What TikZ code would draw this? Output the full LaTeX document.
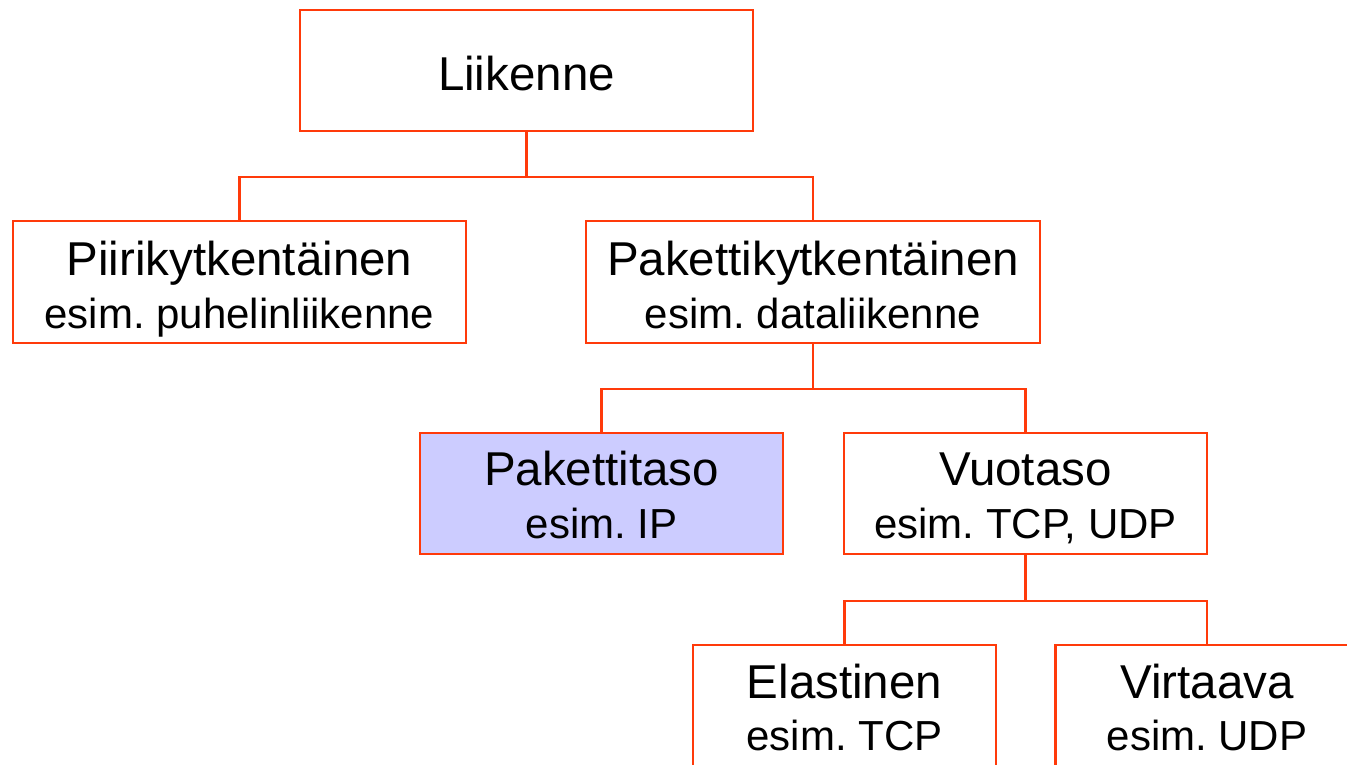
\documentclass[tikz,border=0pt]{standalone}
\usepackage{fontspec}
\setmainfont{Liberation Sans}
\usetikzlibrary{calc}
\frenchspacing
\definecolor{edge}{RGB}{255,58,10}
\definecolor{lav}{RGB}{204,204,255}
\tikzset{
  box/.style={draw=edge, line width=2.2pt, fill=white, rectangle, inner sep=0pt},
  hilite/.style={box, fill=lav},
  big/.style={anchor=base, inner sep=0pt, font=\fontsize{47.5}{57}\selectfont},
  small/.style={anchor=base, inner sep=0pt, font=\fontsize{42}{50}\selectfont},
  wire/.style={draw=edge, line width=2.2pt}
}
\begin{document}
\begin{tikzpicture}[x=1pt, y=-1pt]
\path[use as bounding box, clip] (0,0) rectangle (1347,764);
\fill[white] (0,0) rectangle (1347,764);

% boxes
\node[box, minimum width=453pt, minimum height=121pt] (root) at (526.5,70.5) {};
\node[box, minimum width=453pt, minimum height=122pt] (piiri) at (239.5,282) {};
\node[box, minimum width=454pt, minimum height=122pt] (paket) at (813,282) {};
\node[hilite, minimum width=363pt, minimum height=121pt] (ptaso) at (601.5,493.5) {};
\node[box, minimum width=363pt, minimum height=121pt] (vuo) at (1025.5,493.5) {};
\node[box, minimum width=303pt, minimum height=121pt] (elast) at (844.5,705.5) {};
\node[box, minimum width=303pt, minimum height=121pt] (virt) at (1207,705.5) {};

% connectors
\coordinate (b1) at ($(root.south)+(0,45)$);
\coordinate (b2) at ($(paket.south)+(0,45)$);
\coordinate (b3) at ($(vuo.south)+(0,45.5)$);
\draw[wire] (root.south) -- (b1);
\draw[wire] (piiri.north) |- (b1) -| (paket.north);
\draw[wire] (paket.south) -- (b2);
\draw[wire] (ptaso.north) |- (b2) -| (vuo.north);
\draw[wire] (vuo.south) -- (b3);
\draw[wire] (elast.north) |- (b3) -| (virt.north);

% texts
\node[big] (t0) at (526.5,90) {Liikenne};
\node[big] (t1a) at (239.5,275) {Piirikytkentäinen};
\node[small] (t1b) at (239.5,328) {esim. puhelinliikenne};
\node[big] (t2a) at (813,275) {Pakettikytkentäinen};
\node[small] (t2b) at (813,328) {esim. dataliikenne};
\node[big] (t3a) at (601.5,485) {Pakettitaso};
\node[small] (t3b) at (601.5,538) {esim. IP};
\node[big] (t4a) at (1025.5,485) {Vuotaso};
\node[small] (t4b) at (1025.5,538) {esim. TCP, UDP};
\node[big] (t5a) at (844.5,698) {Elastinen};
\node[small] (t5b) at (844.5,750) {esim. TCP};
\node[big] (t6a) at (1207,698) {Virtaava};
\node[small] (t6b) at (1207,750) {esim. UDP};
\end{tikzpicture}
\end{document}
